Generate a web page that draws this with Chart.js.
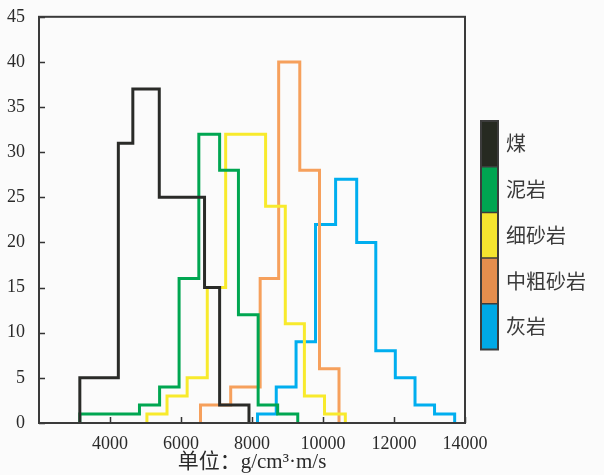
<!DOCTYPE html>
<html>
<head>
<meta charset="utf-8">
<script src="https://cdn.jsdelivr.net/npm/chart.js@4/dist/chart.umd.min.js"></script>
<style>
  html, body { margin: 0; padding: 0; background: #fbfbfb; }
  #wrap { position: relative; width: 604px; height: 475px; }
</style>
</head>
<body>
<div id="wrap"><canvas id="c" width="604" height="475"></canvas></div>
<script>
// Bin edges (g/cm³·m/s) and counts for each lithology
const coalEdges = [3150, 4235, 4643, 5388, 6663, 7088, 7915];
const coalCounts = [5, 31, 37, 25, 15, 2];

const mudEdges = [3150, 4830, 5397, 5946, 6502, 7088, 7618, 8173, 8723, 9289];
const mudCounts = [1, 2, 4, 16, 32, 28, 12, 2, 1];

const fineEdges = [5040, 5606, 6173, 6740, 7258, 8383, 8938, 9476, 10043, 10629];
const fineCounts = [1, 3, 5, 15, 32, 24, 11, 3, 1];

const coarseEdges = [6550, 7400, 8230, 8751, 9346, 9901, 10451];
const coarseCounts = [2, 4, 16, 40, 28, 6];

const limeEdges = [8156, 8683, 9241, 9788, 10355, 10949, 11487, 12037, 12592, 13142, 13709];
const limeCounts = [1, 4, 9, 22, 27, 20, 8, 5, 2, 1];

const seriesNames = ['煤', '泥岩', '细砂岩', '中粗砂岩', '灰岩'];
const lineColors = ['#2a2b28', '#00a651', '#f8ea2c', '#f6a05c', '#00aeef'];
const swatchColors = ['#262a21', '#00a551', '#f5e52f', '#e68e4d', '#00a9e6'];

const xTicks = [4000, 6000, 8000, 10000, 12000, 14000];
const yTicks = [0, 5, 10, 15, 20, 25, 30, 35, 40, 45];

// Turn edges + counts into an outline polyline for a stepped line
function outline(edges, counts) {
  const pts = [{ x: edges[0], y: 0 }];
  for (let i = 0; i < counts.length; i++) pts.push({ x: edges[i], y: counts[i] });
  pts.push({ x: edges[edges.length - 1], y: 0 });
  return pts;
}

const groups = [
  [coalEdges, coalCounts],
  [mudEdges, mudCounts],
  [fineEdges, fineCounts],
  [coarseEdges, coarseCounts],
  [limeEdges, limeCounts]
];

const datasets = groups.map((g, i) => ({
  label: seriesNames[i],
  data: outline(g[0], g[1]),
  stepped: 'before',
  borderColor: lineColors[i],
  borderWidth: 3,
  borderJoinStyle: 'miter',
  borderCapStyle: 'butt',
  pointRadius: 0,
  fill: false,
  order: i
}));

const serif = "'Liberation Serif', 'Times New Roman', serif";
const mixed = "'Liberation Serif', 'Noto Sans CJK SC', serif";

// Frame, inward tick marks and the swatch legend
const decorations = {
  id: 'decorations',
  afterDraw(chart) {
    const { ctx, chartArea: a, scales } = chart;
    ctx.save();
    ctx.strokeStyle = '#333';
    ctx.lineWidth = 1.5;
    ctx.beginPath();
    yTicks.forEach(v => {
      const py = Math.round(scales.y.getPixelForValue(v)) + 0.5;
      ctx.moveTo(a.left, py); ctx.lineTo(a.left + 6, py);
    });
    xTicks.forEach(v => {
      const px = Math.round(scales.x.getPixelForValue(v)) + 0.5;
      ctx.moveTo(px, a.bottom); ctx.lineTo(px, a.bottom - 6);
    });
    ctx.stroke();

    ctx.lineWidth = 2;
    ctx.strokeStyle = '#3a3a3a';
    ctx.strokeRect(a.left, a.top, a.right - a.left, a.bottom - a.top);

    // legend
    const lx = 481, lw = 17, ly = 121, lh = 45.7;
    swatchColors.forEach((c, i) => {
      ctx.fillStyle = c;
      ctx.fillRect(lx, ly + i * lh, lw, lh);
    });
    ctx.lineWidth = 1.5;
    ctx.strokeStyle = '#3c3c3c';
    ctx.beginPath();
    for (let i = 1; i < swatchColors.length; i++) {
      ctx.moveTo(lx, ly + i * lh); ctx.lineTo(lx + lw, ly + i * lh);
    }
    ctx.stroke();
    ctx.lineWidth = 2;
    ctx.strokeRect(lx, ly, lw, lh * swatchColors.length);

    ctx.fillStyle = '#3a3a3a';
    ctx.font = "20px 'Noto Sans CJK SC'";
    ctx.textAlign = 'left';
    ctx.textBaseline = 'middle';
    seriesNames.forEach((n, i) => {
      ctx.fillText(n, 506, ly + i * lh + lh / 2);
    });
    ctx.restore();
  }
};

new Chart(document.getElementById('c'), {
  type: 'line',
  data: { datasets },
  plugins: [decorations],
  options: {
    responsive: false,
    animation: false,
    layout: { padding: { left: 0, top: 15, right: 139, bottom: 0 } },
    plugins: { legend: { display: false }, tooltip: { enabled: false } },
    scales: {
      x: {
        type: 'linear',
        min: 2000,
        max: 14000,
        grid: { display: false },
        border: { display: false },
        afterBuildTicks(scale) {
          scale.ticks = xTicks.map(v => ({ value: v }));
        },
        afterFit(scale) { scale.height = 52; },
        ticks: {
          color: '#2a2a2a',
          font: { family: serif, size: 18 },
          padding: 2,
          maxRotation: 0,
          autoSkip: false,
          callback: v => String(v)
        },
        title: {
          display: true,
          text: '单位：g/cm³·m/s',
          color: '#2a2a2a',
          font: { family: mixed, size: 21 },
          padding: { top: 0, bottom: 0 }
        }
      },
      y: {
        min: 0,
        max: 45,
        grid: { display: false },
        border: { display: false },
        afterBuildTicks(scale) {
          scale.ticks = yTicks.map(v => ({ value: v }));
        },
        afterFit(scale) { scale.width = 39; },
        ticks: {
          color: '#2a2a2a',
          font: { family: serif, size: 18 },
          padding: 6
        }
      }
    }
  }
});
</script>
</body>
</html>
